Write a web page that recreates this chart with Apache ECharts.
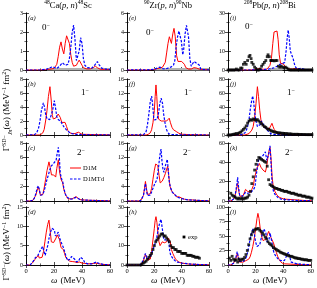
<!DOCTYPE html>
<html><head><meta charset="utf-8">
<script src="https://cdn.jsdelivr.net/npm/echarts/dist/echarts.min.js"></script>
<style>html,body{margin:0;padding:0;background:#fff}#c{width:317px;height:288px}</style>
</head><body><div id="c"></div>
<script>
// ---------- data (omega in MeV, strength) ----------
const xTicks = [0, 20, 40, 60];
const yMax = [[3, 6, 30], [8, 16, 80], [8, 16, 60], [15, 30, 100]];
const yStep = [[1, 2, 10], [2, 4, 20], [2, 4, 20], [5, 10, 25]];
const colTitles = ['48Ca(p,n)48Sc', '90Zr(p,n)90Nb', '208Pb(p,n)208Bi'];
const rowJ = ['0', '1', '2'];

const a_D1M = [[0,0],[10,0],[14,0.02],[18,0.05],[20,0.08],[21,0.15],[22,0.3],[23,0.7],[24,1.2],[25,1.48],[26,1.1],[27,0.85],[28,1.4],[29,1.8],[30,1.85],[31,1.4],[32,0.8],[33,0.4],[34,0.2],[35,0.15],[36,0.25],[37,0.4],[38,0.52],[39,0.45],[40,0.25],[41,0.12],[43,0.06],[46,0.06],[48,0.12],[49.5,0.2],[51,0.12],[53,0.04],[56,0.03],[60,0.02]];
const a_D1MTd = [[0,0],[10,0],[15,0.05],[17,0.12],[19,0.17],[20,0.1],[22,0.08],[24,0.2],[26,0.38],[27,0.4],[28,0.25],[29,0.2],[30,0.3],[31,0.6],[32,1.2],[33,2.0],[34,2.36],[35,1.6],[36,0.5],[37,0.4],[38,1.0],[39,1.7],[40,1.4],[41,0.6],[42,0.25],[44,0.12],[47,0.1],[49,0.25],[51,0.44],[52,0.3],[54,0.1],[57,0.05],[60,0.03]];
const a_gray = [[15,0.04],[60,0.04]];

const e_D1M = [[0,0],[15,0],[20,0.05],[22,0.15],[24,0.2],[26,0.3],[28,0.8],[29,1.8],[30,2.8],[31,3.5],[31.5,3.6],[32.5,2.8],[33.5,3.8],[34.4,4.38],[35.3,3.5],[36.3,1.5],[37.3,0.9],[38.5,0.8],[40,0.9],[41,0.9],[42,0.6],[43,0.25],[45,0.1],[47,0.1],[49,0.25],[50,0.3],[51,0.2],[53,0.08],[56,0.05],[60,0.02]];
const e_D1MTd = [[0,0],[15,0.02],[20,0.08],[22,0.2],[24,0.3],[25,0.3],[26,0.15],[28,0.1],[30,0.2],[32,0.3],[34,0.5],[35,1],[36,2.5],[37,3.5],[38,4.1],[38.8,4.24],[39.8,3.0],[40.8,1.6],[41.5,2.2],[42.5,3.8],[43.5,4.7],[44.1,4.84],[45,3.5],[46,1.2],[47,0.4],[48,0.5],[49,0.9],[50,0.85],[51,0.7],[52,0.9],[53,0.5],[54,0.1],[56,0.04],[60,0.02]];
const e_gray = [[20,0.08],[60,0.08]];

const i_D1M = [[0,0],[15,0],[20,0.2],[22,0.8],[23,1.0],[24,0.5],[26,0.3],[28,0.5],[29,1],[30,2.5],[31,6],[32,14],[32.9,20],[33.6,19],[34.3,19.5],[35,20.5],[35.8,16],[36.6,8],[37.5,3.5],[38.3,3],[39.5,3.2],[40.5,2.5],[41.5,1.2],[43,0.6],[46,0.5],[48,0.8],[50,0.5],[53,0.2],[60,0]];
const i_D1MTd = [[0,0],[15,0],[22,0.2],[26,0.3],[29,0.5],[31,0.8],[33,1.2],[35,2],[37,3],[38.5,3.2],[39.5,2.5],[40.5,4],[41.5,10],[42.3,17],[43,21],[43.7,17],[44.5,10],[45.5,8],[46.5,6],[47.5,3],[48.5,1.2],[50,0.6],[52,0.9],[53,0.5],[55,0.2],[60,0]];
const i_gray = [[30,0.4],[39,0.4]];
const i_exp = [[0,0],[1,0],[2,0],[3,0],[4,0],[5,0],[6,0.5],[7,0],[8,0],[9,1],[10,1],[11,3],[12,4],[13,3],[14,5],[15,7],[15.7,7.7],[16.5,6],[17,4],[18,3],[19,1.5],[20,0.5],[21,0],[22,0],[23,0.5],[24,2],[25,3],[26,4],[27,5],[28,7],[28.6,8],[29.5,7],[30.5,5],[31,5],[32,5],[33,4.8],[34,5],[35,5],[36,2],[37,1.5],[38,2],[39,1.5],[40,1],[41,1.5],[42,1],[43,0.5],[44,0],[45,0],[46,0],[47,0],[48,0],[49,0],[50,0],[51,0],[52,0],[53,0],[54,0],[55,0],[56,0],[57,0],[58,0],[59,0],[60,0]];

const b_D1M = [[0,0],[10,0],[11,0.1],[12,0.3],[13,0.8],[14,2],[15,3.5],[16,5.5],[17.1,6.9],[18,5],[18.8,2.8],[19.5,2.3],[20.3,2.5],[21.1,2.4],[22,2.6],[23,3],[23.8,3.2],[24.5,2.5],[25.5,1.8],[26.5,1.6],[27.9,1.8],[29,1.2],[30,0.6],[31.4,0.3],[33,0.2],[35,0.2],[37.4,0.4],[38.5,0.2],[40,0.1],[45,0.08],[50,0.05],[60,0.02]];
const b_D1MTd = [[0,0],[6,0.05],[7.6,0.3],[9,1],[10,2],[11,3.5],[12.4,4.6],[13.2,4],[14,3],[15,2.3],[16,2.1],[17,2.2],[18,2.3],[19,3.5],[20.2,4.9],[21,4],[22,2.6],[23,2.2],[24,2.1],[25,1.9],[26,1.5],[27,1.2],[28,1],[29,0.7],[30,0.5],[31.4,0.3],[33,0.2],[35,0.1],[40,0.05],[60,0]];

const f_D1M = [[0,0],[14,0],[15.5,0.2],[17,0.6],[18,1.5],[19,3.5],[20,7],[20.6,11],[21.2,14.3],[21.8,11],[22.5,6],[23.2,4.5],[24,4.2],[25,4],[26,4.3],[27,4],[28,3.8],[29,4],[30,4.5],[30.9,4.8],[31.8,3.5],[32.9,2.2],[34,1.5],[35,1.2],[36,1],[37,0.6],[38,0.5],[39,0.3],[40,0.2],[42,0.2],[45,0.1],[60,0]];
const f_D1MTd = [[0,0],[12,0.05],[13.1,0.3],[14,1],[15,3],[16,6],[17,9.5],[18,11.1],[18.7,9],[19.5,5],[20.2,4.3],[21,4.2],[22,4.5],[23,6],[24,9],[25,10.5],[25.4,10.8],[26,9],[26.8,6],[27.8,3.5],[28.7,1.8],[29.5,1],[30.5,0.4],[32,0.15],[34,0.1],[40,0.05],[60,0]];

const j_D1M = [[0,0],[12,0],[13.3,0.5],[15,2],[16,4],[17,7],[18,12],[19,25],[20,45],[21,69],[21.8,55],[22.7,35],[23.5,22],[24.5,15],[25.5,12],[26.7,10],[27.5,9],[28.5,8],[29.5,9],[30.5,13],[31.4,16.7],[32.2,12],[33,8],[34,5],[35,3.5],[36,2.5],[37,1.8],[38,1.2],[40,0.8],[45,0.5],[50,0.3],[60,0]];
const j_D1MTd = [[0,0],[8,0],[10,0.5],[11,1],[12,3],[13,6],[14,12],[15,22],[16,38],[17,50],[17.6,55.7],[18.3,48],[19,33],[20,20],[21,12],[22,10],[23,15],[24,20],[24.8,18],[25.5,14],[26.5,11],[27.5,9],[28.5,6],[29.5,3.5],[30.5,2],[32,1],[35,0.5],[40,0.3],[60,0]];
const j_exp = [[0,0],[1,0],[2,0],[3,0.5],[4,1],[5,1.5],[6,2],[7,2],[8,3],[9,4],[10,6],[11,8],[12,10],[13,13],[14,17],[15,20],[16,22],[17,21],[18,23],[19,22],[20,21],[21,22],[22,20],[23,18],[24,16],[25,14],[26,12],[27,11],[28,9],[29,8],[30,7],[31,6],[32,5],[33,4.5],[34,4],[35,3.5],[36,3],[37,3],[38,2.5],[39,2.5],[40,2],[41,2],[42,2],[43,1.5],[44,1.5],[45,1.5],[46,1],[47,1],[48,1],[49,1],[50,1],[51,0.8],[52,0.8],[53,0.8],[54,0.6],[55,0.6],[56,0.5],[57,0.5],[58,0.5],[59,0.5],[60,0.5]];

const c_D1M = [[0,0],[3,0],[5,0.1],[6,0.3],[7,0.8],[8,1.5],[8.8,1.95],[9.5,1.5],[10.3,0.8],[11,0.6],[12,0.9],[13,1.8],[14,3],[15,4.2],[16.4,5.4],[17.3,4.6],[18.2,3.6],[18.8,3.4],[19.7,3.6],[20.5,3.4],[21.2,3.3],[22,4.5],[23.1,5.7],[24,4],[25,3],[25.5,2.9],[26.2,2.5],[27,1.6],[28,1],[29,0.6],[30,0.3],[31.4,0.2],[33,0.3],[35.7,0.6],[37,0.4],[38.5,0.2],[40,0.15],[45,0.1],[50,0.08],[55,0.05],[60,0.02]];
const c_D1MTd = [[0,0],[3,0],[5,0.1],[6,0.4],[7,1],[8,1.8],[8.8,2.1],[9.5,1.6],[10.3,0.8],[11,0.6],[12,0.9],[13,1.4],[14,2.2],[15,3],[16,3.6],[17,4.3],[18,4.8],[18.8,5],[19.7,5.2],[20.7,5.3],[21.5,5.6],[22.3,6.6],[23.1,7.4],[23.8,6],[24.5,3.8],[25.5,3],[26.2,2.7],[27,1.8],[28,1],[29,0.6],[30,0.35],[31.4,0.25],[33,0.3],[35.7,0.5],[37,0.4],[38.5,0.2],[40,0.15],[45,0.1],[50,0.06],[60,0.02]];

const g_D1M = [[0,0],[8,0],[10,0.1],[11,0.5],[12,1.5],[12.8,3.5],[13.5,5.4],[14.2,3.5],[15,1.8],[16,1.5],[17,2],[18,3.5],[19,6],[20,8.5],[21,10.2],[21.7,10.6],[22.5,9.8],[23.5,7],[24.3,5],[24.9,4.8],[25.8,5.5],[27,6.5],[28,7.5],[29,8.8],[29.8,9.6],[30.5,7],[31.5,4],[32.5,3],[33.5,2.2],[35,1.8],[36,1.2],[37.3,1],[38.5,1.1],[40,0.8],[42,0.5],[45,0.3],[48,0.3],[50,0.2],[55,0.1],[60,0.05]];
const g_D1MTd = [[0,0],[8,0],[10,0.1],[11,0.4],[12,1.5],[12.8,3.2],[13.5,4.8],[14.2,3],[15,1.5],[16,1.3],[17,1.6],[18,2.5],[19,3.5],[20,4.5],[21,5],[22,6],[23,9],[24,12.5],[24.9,14.3],[25.6,11],[26.4,8.5],[27.1,7.9],[28.3,10],[29.5,11.5],[30.3,8],[31,5],[32,3.5],[33,2.5],[34,2],[35,1.7],[36,1.2],[37.3,1],[38.5,1],[40,0.7],[42,0.5],[45,0.3],[50,0.2],[60,0.05]];

const k_D1M = [[0,0],[2,0],[3,0.5],[4,2],[5,5],[6,12],[6.9,18.3],[7.7,10],[8.5,5],[9.5,4],[10.5,5],[11.5,8],[12.5,12],[13.3,13],[14,10],[15,8],[16,9],[17,12],[18.1,16],[19,24],[20,30],[21,35],[22.4,38.8],[23.5,35],[25,32],[26.7,30],[27.5,35],[28.5,45],[29.3,52],[30,55.4],[30.7,45],[31.5,25],[32.3,15],[33.5,10],[35,6],[36.5,4],[38,3],[40,2],[45,1.5],[50,1],[55,0.5],[60,0.3]];
const k_D1MTd = [[0,0],[2,0],[3,0.5],[4,2],[5,5],[6,14],[6.9,24.4],[7.5,15],[8.3,6],[9.5,4],[10.5,5],[11.5,7],[12.5,9],[13.3,10],[14,8],[15,7],[16.3,9],[17.3,10],[18.3,12],[19.3,15],[20.5,30],[21.5,40],[22.5,45],[23.5,47],[24.5,46],[25.5,48],[26.7,50.8],[27.7,42],[28.5,40],[29.3,50],[30,57],[30.7,40],[31.5,18],[32.5,10],[33.5,7],[34.5,5],[36,3],[38,2],[40,1.5],[45,1],[50,0.5],[60,0.2]];
const k_exp = [[1,3],[2,8],[3,6],[4,5],[5,4],[6,3],[7,2],[8,3],[9,2],[10,3],[11,2],[12,3],[13,3],[14,4],[15,6],[16,10],[17,18],[18,25],[19,32],[20,38],[21,42],[22,45],[23,44],[24,43],[25,42],[26,41],[27,40],[28,36],[29,22],[30,17],[31,16],[32,15],[33,14],[34,13],[35,13],[36,12],[37,12],[38,11],[39,11],[40,10],[41,10],[42,10],[43,9],[44,9],[45,8],[46,8],[47,8],[48,7],[49,7],[50,6],[51,6],[52,6],[53,5],[54,5],[55,5],[56,4],[57,4],[58,4],[59,3],[60,3]];

const d_D1M = [[0,0],[3,0],[4,0.3],[5.2,0.8],[6.5,1.5],[7.5,2],[8.8,2.5],[9.5,1.8],[10.5,1.5],[11.5,2],[12.5,3.5],[13.5,6],[14.5,8.5],[15.5,10.5],[16.4,11.6],[17.2,9],[18.1,6],[18.8,5.5],[19.7,5.8],[20.5,6],[21.5,7],[22.3,7.8],[23.1,8.1],[24,6.5],[25,4.5],[25.8,4.2],[26.7,4],[27.5,3],[28.4,2],[29.5,1.5],[31,1],[33,0.9],[35,0.8],[36.5,0.6],[38,0.8],[40,0.5],[42,0.4],[45,0.3],[48,0.4],[50,0.5],[52,0.3],[55,0.15],[60,0.05]];
const d_D1MTd = [[0,0],[3,0],[4,0.3],[5.2,1],[6.5,1.8],[7.5,2.2],[8.5,2.5],[9.5,3],[10.5,4],[11.9,4.8],[12.8,3.5],[13.7,2.5],[14.5,3],[15.5,5],[16.5,7],[17.5,8.5],[18.5,9.5],[19.5,10],[20.3,9],[21,7.5],[22,8],[23.1,8.5],[24,7],[25,6],[25.8,5.5],[26.7,4.5],[27.5,4],[28.4,2.5],[29.5,1.2],[30.5,1],[31.5,1.5],[32.5,2.2],[33.8,2.5],[34.8,1.5],[36,0.8],[37.5,1],[38.8,2],[39.8,2.5],[40.8,1.5],[42,0.6],[44,0.3],[47,0.3],[50.5,0.8],[52,0.4],[55,0.15],[60,0.05]];

const h_D1M = [[0,0],[8,0],[10,0.2],[11,0.8],[11.9,2],[12.8,4],[13.5,5.5],[14.2,4],[15,2.5],[16,2],[17,3],[18,7],[19,13],[20,19],[20.6,23],[21.2,25],[21.9,22],[22.7,16],[23.4,12],[24.2,10],[25,10.5],[25.8,12],[26.6,12.5],[27.3,11.5],[28,11],[29,12],[30,14],[30.9,15],[31.7,12],[32.5,8],[33.5,6],[34.5,4.5],[35.5,3],[36.5,2],[38,1.5],[40,1],[43,0.7],[45,0.5],[50,0.3],[55,0.2],[60,0.1]];
const h_D1MTd = [[0,0],[8,0],[10,0.2],[11,0.8],[11.9,2.5],[12.8,4.5],[13.5,6],[14.2,4.5],[15,3],[16,3],[17,4],[18,6],[19,8],[20,10],[21,12],[22,15],[23,19],[24,22],[24.9,23.6],[25.8,19],[26.4,16],[27,13],[27.8,12],[28.5,13],[29.5,14],[30.5,12],[31.3,7],[32,5],[33,4],[34,3],[35.5,2],[37,1.5],[40,1],[45,0.6],[50,0.3],[60,0.1]];
const h_exp = [[0,0],[2,0],[4,0],[6,0],[8,0],[10,0],[11,0.5],[12,1],[13,1.5],[14,2],[15,3],[16,4],[17,5],[18,6],[19,8],[20,10],[21,12],[22,13],[23,14],[24,15],[25,16],[26,16],[27,15],[28,15],[29,14],[30,13],[31,12],[32,10],[33,9],[34,9],[35,8],[36,8],[37,7],[38,7],[39,7],[40,6],[41,6],[42,6],[43,6],[44,5],[45,5],[46,5],[47,5],[48,4.5],[49,4.5],[50,4],[51,4],[52,4],[53,3.5]];

const l_D1M = [[0,0],[2,0],[3,1],[4,3],[5,6],[5.8,12],[6.7,20],[7.5,12],[8.3,5],[9.5,4],[11,5],[12.5,7],[13.5,9],[15,10],[16,14],[17,22],[18,32],[19,45],[20,62],[21,80],[21.7,89],[22.5,80],[23.5,60],[24.5,48],[25.5,42],[26.7,40],[27.5,45],[28.5,52],[29.5,58],[30.3,55],[31,48],[32,45],[33,38],[34,30],[35,22],[36,15],[37,10],[38,6],[39.5,3],[41,2],[45,1.5],[50,1],[55,0.5],[60,0.3]];
const l_D1MTd = [[0,0],[2,0],[3,1],[4,3],[5,6],[5.8,14],[6.7,23],[7.5,14],[8.3,6],[9.5,5],[11,6],[12.5,10],[13.5,15],[14.5,25],[15.5,38],[16.5,50],[17.5,58],[18.1,62],[19,55],[20,40],[21,32],[22,30],[23,35],[24,45],[25,55],[26,62],[26.7,65],[27.5,55],[28.2,40],[29,38],[29.8,45],[30.5,55],[31,53],[31.8,40],[32.5,28],[33.5,20],[35,14],[36.5,10],[38,8],[39.5,7],[41,8],[42.3,15],[43.8,22],[44.8,14],[45.8,5],[47,3],[50,2],[55,1],[60,0.5]];
const l_exp = [[1,12],[2,8],[3,15],[4,10],[5,8],[6,9],[7,5],[8,10],[9,8],[10,10],[11,10],[12,13],[13,18],[14,25],[15,35],[16,45],[17,52],[18,57],[19,60],[20,62],[21,62],[22,63],[23,60],[24,58],[25,55],[26,52],[27,48],[28,45],[29,40],[30,37],[31,35],[32,33],[33,30],[34,28],[35,27],[36,25],[37,24],[38,22],[39,21],[40,20],[41,19],[42,18],[43,17],[44,16],[45,15],[46,15],[47,14],[48,13],[49,12],[50,12],[51,11],[52,11],[53,10],[54,10],[55,9],[56,9],[57,9],[58,8],[59,8],[60,8]];

// ---------- layout ----------
const F = '"Liberation Serif","DejaVu Serif",serif';
const COLS = [{left:26,width:84},{left:127,width:82},{left:228,width:84}];
const ROWS = [{top:13,height:57},{top:79,height:56},{top:143,height:58},{top:207,height:58}];
const letters = [['a','e','i'],['b','f','j'],['c','g','k'],['d','h','l']];
const RED = [[a_D1M,e_D1M,i_D1M],[b_D1M,f_D1M,j_D1M],[c_D1M,g_D1M,k_D1M],[d_D1M,h_D1M,l_D1M]];
const BLUE = [[a_D1MTd,e_D1MTd,i_D1MTd],[b_D1MTd,f_D1MTd,j_D1MTd],[c_D1MTd,g_D1MTd,k_D1MTd],[d_D1MTd,h_D1MTd,l_D1MTd]];
const EXP = [[null,null,i_exp],[null,null,j_exp],[null,null,k_exp],[null,h_exp,l_exp]];
const GRAY = [[a_gray,e_gray,i_gray],[null,null,null],[null,null,null],[null,null,null]];

const grids=[], xAxes=[], yAxes=[], series=[], graphic=[];
const tick = {show:true, inside:true, length:3, lineStyle:{color:'#000', width:0.7}};
const mtick = {show:true, splitNumber:2, length:1.6, lineStyle:{color:'#000', width:0.6}};
const aline = {show:true, lineStyle:{color:'#000', width:0.8}};
let gi = 0;
for (let r=0;r<4;r++) for (let c=0;c<3;c++) {
  const G = {left:COLS[c].left, top:ROWS[r].top, width:COLS[c].width, height:ROWS[r].height};
  grids.push(Object.assign({show:false}, G));
  ['bottom','top'].forEach((pos,k)=>xAxes.push({type:'value', gridIndex:gi, position:pos, min:xTicks[0], max:xTicks[xTicks.length-1], interval:xTicks[1]-xTicks[0],
    axisLine:aline, axisTick:tick, minorTick:mtick, splitLine:{show:false},
    axisLabel:{show:(k===0 && r===3), fontSize:6.5, color:'#000', fontFamily:F, margin:3}}));
  ['left','right'].forEach((pos,k)=>yAxes.push({type:'value', gridIndex:gi, position:pos, min:0, max:yMax[r][c], interval:yStep[r][c],
    axisLine:aline, axisTick:tick, minorTick:mtick, splitLine:{show:false},
    axisLabel:{show:k===0, fontSize:6, color:'#000', fontFamily:F, margin:3}}));
  const xi = gi*2, yi = gi*2;
  if (GRAY[r][c]) series.push({type:'line', xAxisIndex:xi, yAxisIndex:yi, data:GRAY[r][c], symbol:'none', lineStyle:{color:'#b0b0b0', width:2.5}, z:1});
  series.push({type:'line', name:'D1M', xAxisIndex:xi, yAxisIndex:yi, data:RED[r][c], symbol:'none', lineStyle:{color:'#ff0000', width:1}, z:3});
  series.push({type:'line', name:'D1MTd', xAxisIndex:xi, yAxisIndex:yi, data:BLUE[r][c], symbol:'none', lineStyle:{color:'#0000ff', width:1.2, type:[2.5,1.5]}, z:4});
  if (EXP[r][c]) series.push({type:'scatter', name:'exp', xAxisIndex:xi, yAxisIndex:yi, data:EXP[r][c], symbol:'rect', symbolSize:2.8, itemStyle:{color:'#000'}, z:5});
  graphic.push({type:'text', x:G.left+2, y:G.top+5, style:{text:'('+letters[r][c]+')', font:'italic 6.5px '+F, fill:'#000', verticalAlign:'middle'}});
  gi++;
}
const sup = {fontSize:6, fontFamily:F, verticalAlign:'top', lineHeight:12};
const nrm = {fontSize:9, fontFamily:F, lineHeight:12};
const it = {fontSize:9, fontFamily:F, fontStyle:'italic', lineHeight:12};
const sub = {fontSize:6, fontFamily:F, fontStyle:'italic', verticalAlign:'bottom', lineHeight:12};
const rich = {n:nrm, s:sup, i:it, b:sub, t:Object.assign({}, nrm, {fontSize:8.5}), ts:Object.assign({}, sup, {fontSize:5.5}), ti:Object.assign({}, it, {fontSize:8.5})};
// column titles
const titleTxt = ['{ts|48}{t|Ca(}{ti|p, n}{t|)}{ts|48}{t|Sc}', '{ts|90}{t|Zr(}{ti|p, n}{t|)}{ts|90}{t|Nb}', '{ts|208}{t|Pb(}{ti|p, n}{t|)}{ts|208}{t|Bi}'];
const colCx = [68, 168, 270];
titleTxt.forEach((t,c)=>graphic.push({type:'text', x:colCx[c], y:6, style:{text:t, rich, align:'center', verticalAlign:'middle'}}));
colCx.forEach(cx=>graphic.push({type:'text', x:cx, y:281, style:{text:'{i|ω} {n|(MeV)}', rich, align:'center', verticalAlign:'middle'}}));
// J^pi labels
const jPos = [[[46,28],[150,33],[249,27]],[[85,93],[188,93],[291,93]],[[81,153],[187,153],[289,153]]];
jPos.forEach((row,r)=>row.forEach(p=>graphic.push({type:'text', x:p[0], y:p[1], style:{text:'{n|'+rowJ[r]+'}{s|−}', rich, align:'center', verticalAlign:'middle'}})));
// y titles
graphic.push({type:'text', x:7, y:110, rotation:Math.PI/2, style:{text:'{n|Γ}{s|SD−}{b|Jπ}{n|(}{i|ω}{n|) (MeV}{s|−1}{n| fm}{s|2}{n|)}', rich, align:'center', verticalAlign:'middle'}});
graphic.push({type:'text', x:7, y:242, rotation:Math.PI/2, style:{text:'{n|Γ}{s|SD−}{n|(}{i|ω}{n|) (MeV}{s|−1}{n| fm}{s|2}{n|)}', rich, align:'center', verticalAlign:'middle'}});
// legends
graphic.push({type:'line', shape:{x1:70,y1:168,x2:81,y2:168}, style:{stroke:'#ff0000', lineWidth:1}});
graphic.push({type:'text', x:83, y:168, style:{text:'D1M', font:'6.5px '+F, fill:'#000', verticalAlign:'middle'}});
graphic.push({type:'line', shape:{x1:70,y1:179,x2:81,y2:179}, style:{stroke:'#0000ff', lineWidth:1.2, lineDash:[2.5,1.5]}});
graphic.push({type:'text', x:83, y:179, style:{text:'D1MTd', font:'6.5px '+F, fill:'#000', verticalAlign:'middle'}});
graphic.push({type:'rect', shape:{x:182.6,y:235.6,width:2.8,height:2.8}, style:{fill:'#000'}});
graphic.push({type:'text', x:188, y:237, style:{text:'exp', font:'6.5px '+F, fill:'#000', verticalAlign:'middle'}});

const chart = echarts.init(document.getElementById('c'), null, {renderer:'canvas'});
chart.setOption({animation:false, backgroundColor:'#fff', grid:grids, xAxis:xAxes, yAxis:yAxes, series, graphic});
</script></body></html>
